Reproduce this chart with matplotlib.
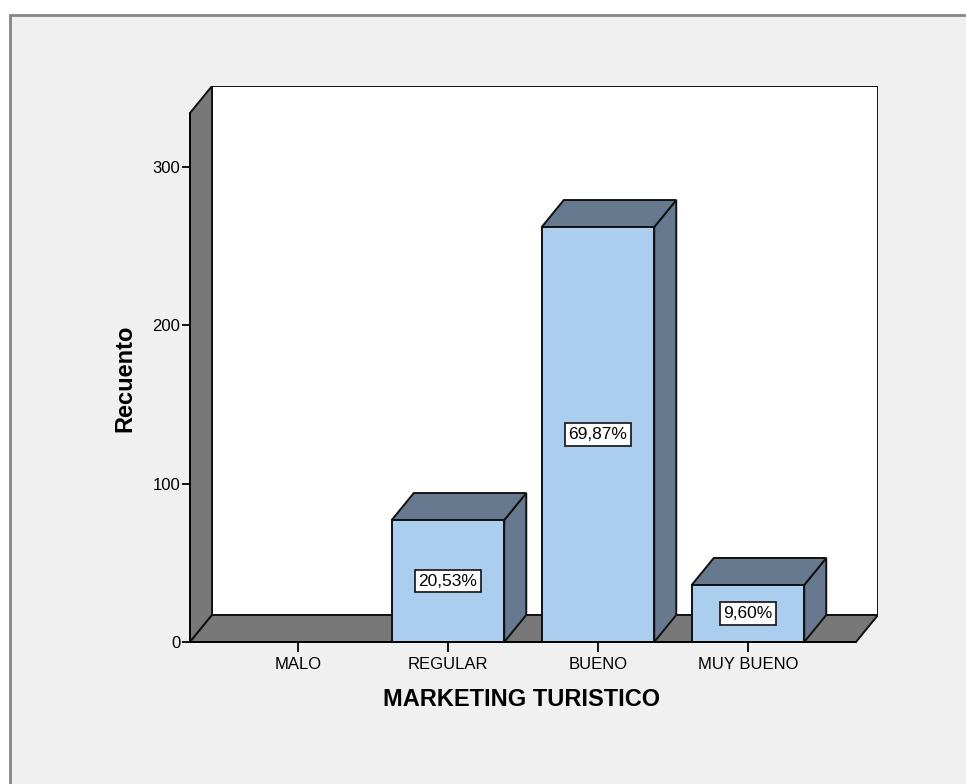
import matplotlib
matplotlib.use("Agg")
import matplotlib.pyplot as plt
from matplotlib.patches import Rectangle, Polygon

# datos
categorias = ['MALO', 'REGULAR', 'BUENO', 'MUY BUENO']
recuento = [0, 77, 262, 36]
y_ticks = [0, 100, 200, 300]

plt.rcParams['font.family'] = ['Liberation Sans', 'DejaVu Sans']

W, H = 966, 784
fig = plt.figure(figsize=(W / 100, H / 100), dpi=100)
fig.patch.set_facecolor('white')
# marco gris del visor
fig.patches.append(Rectangle((10 / W, -0.1), 1.2, (H - 15) / H + 0.1, transform=fig.transFigure,
                             facecolor='#f0f0f0', edgecolor='#858585', linewidth=2, zorder=-5))

# ejes en pixeles: frente del suelo 190..855, fondo +22 px, +27 px
ax = fig.add_axes([190 / W, (H - 642) / H, 688 / W, 556 / H])
ax.set_zorder(2)
ax.set_facecolor('none')

x0, x1 = -0.72, 3.72          # suelo frontal
ytop = 334                     # altura del muro frontal
px_x = 665 / (x1 - x0)
px_y = (642 - 113) / ytop
dx = 22 / px_x
dy = 27 / px_y
ax.set_xlim(x0, x1 + dx)
ax.set_ylim(0, ytop + dy)

edge = dict(edgecolor='#111111', linewidth=1.4, joinstyle='miter')
gris = '#787878'
azul = '#acceee'
oscuro = '#67798e'

# muro de fondo
ax.add_patch(Rectangle((x0 + dx, dy), x1 - x0, ytop, facecolor='white', zorder=1, **edge))
# muro izquierdo
ax.add_patch(Polygon([(x0, 0), (x0 + dx, dy), (x0 + dx, ytop + dy), (x0, ytop)],
                     facecolor=gris, zorder=2, **edge))
# suelo
ax.add_patch(Polygon([(x0, 0), (x1, 0), (x1 + dx, dy), (x0 + dx, dy)],
                     facecolor=gris, zorder=2, **edge))

total = sum(recuento)
w = 0.75
for i, v in enumerate(recuento):
    if v <= 0:
        continue
    l, r = i - w / 2, i + w / 2
    ax.add_patch(Polygon([(r, 0), (r + dx, dy), (r + dx, v + dy), (r, v)],
                         facecolor=oscuro, zorder=3, **edge))
    ax.add_patch(Polygon([(l, v), (r, v), (r + dx, v + dy), (l + dx, v + dy)],
                         facecolor=oscuro, zorder=3, **edge))
    ax.add_patch(Rectangle((l, 0), w, v, facecolor=azul, zorder=4, **edge))
    etiqueta = ('%.2f%%' % (100 * v / total)).replace('.', ',')
    ax.text(i, v / 2, etiqueta, ha='center', va='center', fontsize=12.5, zorder=5,
            bbox=dict(boxstyle='square,pad=0.22', facecolor='white', edgecolor='#222222', linewidth=1.3))

for s in ['top', 'right']:
    ax.spines[s].set_visible(False)
ax.spines['left'].set_bounds(0, ytop)
ax.spines['bottom'].set_bounds(x0, x1)
ax.spines['left'].set_linewidth(1.4)
ax.spines['bottom'].set_linewidth(1.4)
ax.spines['left'].set_zorder(6)
ax.spines['bottom'].set_zorder(6)

ax.set_xticks(range(len(categorias)))
ax.set_xticklabels(categorias, fontsize=12)
ax.set_yticks(y_ticks)
ax.set_yticklabels([str(t) for t in y_ticks], fontsize=12)
ax.tick_params(axis='y', length=6, width=1.3, pad=1)
ax.tick_params(axis='x', length=7, width=1.3, pad=4)

ax.set_xlabel('MARKETING TURISTICO', fontsize=17, fontweight='bold')
ax.xaxis.set_label_coords((522 - 190) / 688, (642 - 700) / 556)
ax.xaxis.label.set_verticalalignment('center')
ax.set_ylabel('Recuento', fontsize=17, fontweight='bold')
ax.yaxis.set_label_coords((125 - 190) / 688, (642 - 378) / 556)
ax.yaxis.label.set_verticalalignment('center')

plt.savefig('out.png', dpi=100)
